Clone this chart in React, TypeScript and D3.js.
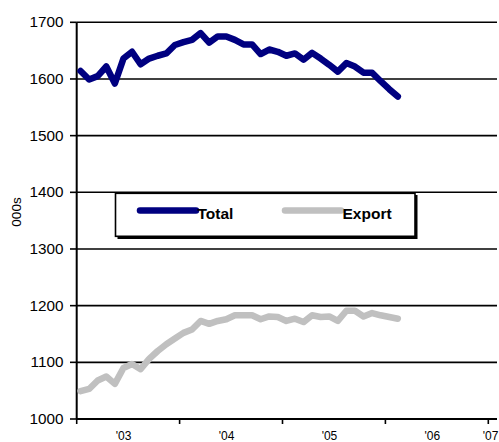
import React from "react";
import * as d3 from "d3";

const startYear = 2003;
const totalValues = [
  1614, 1599, 1605, 1622, 1592, 1636, 1648, 1626, 1636, 1641, 1645, 1660,
  1665, 1669, 1681, 1664, 1675, 1675, 1669, 1661, 1661, 1644, 1652, 1648,
  1641, 1645, 1634, 1646, 1636, 1625, 1613, 1628, 1622, 1611, 1611, 1596,
  1582, 1569,
];
const exportValues = [
  1049, 1053, 1068, 1075, 1062, 1090, 1097, 1088, 1106, 1120, 1132, 1142,
  1152, 1158, 1173, 1168, 1173, 1176, 1183, 1183, 1183, 1176, 1181, 1180,
  1173, 1177, 1171, 1183, 1180, 1181, 1173, 1191, 1191, 1181, 1187, 1183,
  1180, 1177,
];
const yTicks = [1000, 1100, 1200, 1300, 1400, 1500, 1600, 1700];
const yearTicks = [2003, 2004, 2005, 2006, 2007];
const yearLabels = ["'03", "'04", "'05", "'06", "'07"];
const seriesNames = ["Total", "Export"];
const seriesColors = ["#000080", "#C0C0C0"];

export default function App() {
  const W = 499;
  const H = 442;
  const left = 76.7;
  const right = 497;
  const x = d3.scaleLinear().domain([2003, 2007]).range([left, 488.3]);
  const y = d3.scaleLinear().domain([1000, 1700]).range([419, 22.3]);
  const font = "'Liberation Sans', Arial, sans-serif";

  const line = d3
    .line<number>()
    .x((_, i) => x(startYear + (i + 0.45) / 12))
    .y((d) => y(d));

  const series = [totalValues, exportValues];

  return (
    <div style={{ position: "absolute", left: 0, top: 0 }}>
      <svg width={W} height={H} style={{ display: "block", background: "#fff" }}>
        {yTicks.map((t) => (
          <line key={"g" + t} x1={left} x2={right} y1={y(t)} y2={y(t)} stroke="#000" strokeWidth={1.6} />
        ))}
        {yTicks.map((t) => (
          <line key={"yt" + t} x1={70} x2={left} y1={y(t)} y2={y(t)} stroke="#000" strokeWidth={1.6} />
        ))}
        {yTicks.map((t) => (
          <text key={"yl" + t} x={63.5} y={y(t) + 5} textAnchor="end" fontFamily={font} fontSize={15.3} fill="#000">
            {t}
          </text>
        ))}
        <line x1={left} x2={left} y1={y(1700)} y2={y(1000)} stroke="#000" strokeWidth={2} />
        <line x1={left} x2={right} y1={y(1000)} y2={y(1000)} stroke="#000" strokeWidth={2} />
        {yearTicks.map((t) => (
          <line key={"xt" + t} x1={x(t)} x2={x(t)} y1={y(1000)} y2={y(1000) + 5} stroke="#000" strokeWidth={1.6} />
        ))}
        {yearTicks.map((t, i) => (
          <text
            key={"xl" + t}
            x={Math.min(x(t + 0.5) - 4.5, 490.5)}
            y={440}
            textAnchor="middle"
            fontFamily={font}
            fontSize={12}
            fill="#000"
          >
            {yearLabels[i]}
          </text>
        ))}
        <text
          transform={`translate(20.5,212) rotate(-90)`}
          textAnchor="middle"
          fontFamily={font}
          fontSize={13.5}
          fill="#000"
        >
          000s
        </text>
        {series.map((s, k) => (
          <path
            key={"s" + k}
            d={line(s) || ""}
            fill="none"
            stroke={seriesColors[k]}
            strokeWidth={6.5}
            strokeLinejoin="round"
            strokeLinecap="round"
          />
        ))}
        <rect x={117.5} y={195} width={300} height={44} fill="#000" />
        <rect x={115.5} y={193.3} width={299.5} height={43} fill="#fff" stroke="#000" strokeWidth={1.6} />
        {seriesNames.map((n, k) => {
          const lx = k === 0 ? 140 : 285;
          return (
            <g key={"lg" + k}>
              <line x1={lx} x2={lx + 56} y1={210.5} y2={210.5} stroke={seriesColors[k]} strokeWidth={6.5} strokeLinecap="round" />
              <text x={lx + 57.5} y={219} fontFamily={font} fontSize={15.5} fontWeight="bold" fill="#000">
                {n}
              </text>
            </g>
          );
        })}
      </svg>
    </div>
  );
}
